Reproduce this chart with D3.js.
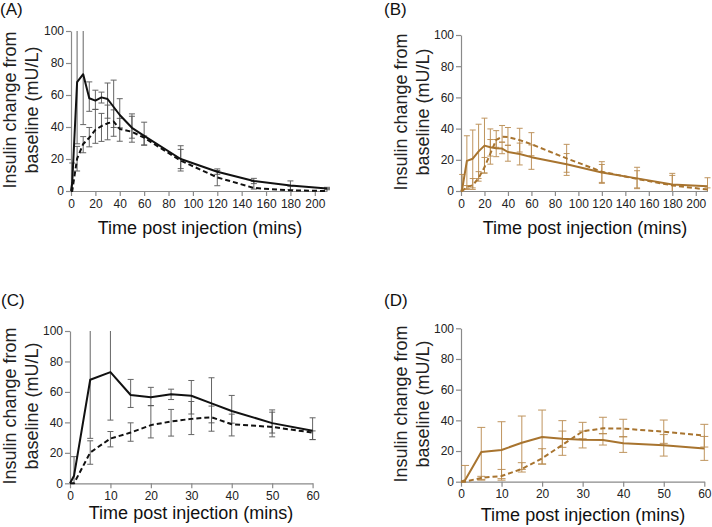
<!DOCTYPE html>
<html>
<head>
<meta charset="utf-8">
<script src="https://cdn.jsdelivr.net/npm/d3@7"></script>
<style>
  body { margin: 0; background: #fff; }
  text { font-family: "Liberation Sans", Arial, sans-serif; }
</style>
</head>
<body>
<div id="chart"></div>
<script>
// sampling times (mins)
const times = [0, 1, 5, 10, 15, 20, 25, 30, 35, 40, 50, 60, 90, 120, 150, 180, 210];

// black series (panels A, C)
const blackSolidMean = [0, 5, 68, 73, 58, 56.5, 58.5, 57.5, 52.5, 47.5, 39.5, 34.5, 20, 12, 6.3, 3.5, 1.5];
const blackSolidLo   = [0, -7, 29.5, 41.5, 49.8, 51, 55, 45.5, 39.7, 39.5, 33, 28.7, 14, 10.4, 4.6, 0.8, 0.8];
const blackSolidHi   = [0, 17.5, 130, 130, 68.2, 63, 61.8, 67.5, 69.3, 57.7, 48.2, 43, 26, 13.8, 7.9, 6.3, 2.3];

const blackDashMean = [0, 0, 20.2, 29.4, 33.3, 38.2, 40.6, 42.3, 43.4, 38.8, 37, 33.3, 19, 8.5, 1.9, 0.4, 0];
const blackDashLo   = [0, 0, 12.5, 23.9, 27.6, 29.8, 31, 32, 34.2, 31.1, 30.5, 28.7, 12.5, 3.3, 1.2, 0, 0];
const blackDashHi   = [0, 0, 27.9, 34, 39.7, 51, 48.5, 53.7, 50.7, 45.4, 46.7, 34.4, 28.3, 12.8, 6, 3, 1.5];

// brown series (panels B, D)
const brownSolidMean = [0, 1, 19.3, 20.7, 25.4, 29.1, 28, 27.4, 27.2, 25, 23.7, 21.7, 17.1, 11.8, 8.1, 4.1, 3];
const brownSolidLo   = [0, -8, 1.5, 2, 8, 11.5, 22.4, 22, 23.9, 19.1, 16.7, 13.9, 10, 4.9, 1.5, 0, 0];
const brownSolidHi   = [0, 10.6, 35.4, 39.1, 42.8, 46.7, 33, 33, 31.3, 29.3, 30.7, 29.5, 24, 18.8, 15.2, 11.3, 8.5];

const brownDashMean = [0, 0, 2.5, 3.7, 8.3, 15.2, 24, 32.8, 34.8, 34.6, 32.6, 30, 20.9, 12.4, 7.7, 3.6, 0.9];
const brownDashLo   = [0, 0, 1, 1, 6.3, 11.5, 17.2, 28, 31.3, 29.3, 25, 22.6, 12, 5.5, 2, 0, 0];
const brownDashHi   = [0, 0, 3.5, 8, 12.4, 21.5, 39.8, 38.7, 42, 40.7, 40.2, 37.4, 29.9, 17, 13, 10, 2];

const yTicks = [0, 20, 40, 60, 80, 100];
const xTicksLong = [0, 20, 40, 60, 80, 100, 120, 140, 160, 180, 200];
const xTicksShort = [0, 10, 20, 30, 40, 50, 60];

const yTitle = ['Insulin change from', 'baseline (mU/L)'];
const xTitle = 'Time post injection (mins)';

const width = 712;
const height = 527;

const svg = d3.select('#chart').append('svg')
    .attr('width', width)
    .attr('height', height);

function series(mean, lo, hi) {
    return times.map((t, i) => ({ t: t, v: mean[i], lo: lo[i], hi: hi[i] }));
}

const blackSeries = [
    { data: series(blackSolidMean, blackSolidLo, blackSolidHi), dash: null },
    { data: series(blackDashMean, blackDashLo, blackDashHi), dash: '5,3' }
];
const brownSeries = [
    { data: series(brownSolidMean, brownSolidLo, brownSolidHi), dash: null },
    { data: series(brownDashMean, brownDashLo, brownDashHi), dash: '5,3' }
];

const panels = [
    { label: '(A)', lx: 0, ly: 15, x0: 71, x1: 327, xMax: 210, y0: 191, y1: 31, ticks: xTicksLong,
      series: blackSeries, color: '#111', barColor: '#555', cap: 3,
      tx: [16, 38], ty: 110, xtx: 200, xty: 234 },
    { label: '(B)', lx: 384, ly: 15, x0: 461, x1: 707.5, xMax: 210, y0: 191, y1: 35, ticks: xTicksLong,
      series: brownSeries, color: '#a8742f', barColor: '#b98a4e', cap: 3,
      tx: [407, 429], ty: 112, xtx: 585, xty: 234 },
    { label: '(C)', lx: 1, ly: 306, x0: 70, x1: 312.6, xMax: 60, y0: 483.3, y1: 331, ticks: xTicksShort,
      series: blackSeries, color: '#111', barColor: '#555', cap: 3,
      tx: [16, 38], ty: 406, xtx: 191, xty: 519 },
    { label: '(D)', lx: 384, ly: 306, x0: 461, x1: 704.3, xMax: 60, y0: 481.7, y1: 328.3, ticks: xTicksShort,
      series: brownSeries, color: '#a8742f', barColor: '#b98a4e', cap: 4,
      tx: [407, 429], ty: 404, xtx: 583, xty: 521 }
];

panels.forEach(drawPanel);

function drawPanel(p) {
    const x = d3.scaleLinear().domain([0, p.xMax]).range([p.x0, p.x1]);
    const y = d3.scaleLinear().domain([0, 100]).range([p.y0, p.y1]);
    const g = svg.append('g');

    // axes
    const xAxis = g.append('g')
        .attr('transform', `translate(0, ${p.y0})`)
        .call(d3.axisBottom(x).tickValues(p.ticks).tickSize(5).tickSizeOuter(0).tickPadding(3));
    const yAxis = g.append('g')
        .attr('transform', `translate(${p.x0}, 0)`)
        .call(d3.axisLeft(y).tickValues(yTicks).tickSize(5).tickSizeOuter(0).tickPadding(2));

    [xAxis, yAxis].forEach(a => {
        a.select('.domain').attr('stroke', '#8a8a8a').attr('stroke-width', 1.2);
        a.selectAll('.tick line').attr('stroke', '#8a8a8a').attr('stroke-width', 1.2);
        a.selectAll('.tick text')
            .attr('fill', '#222')
            .style('font-size', '12px')
            .style('font-family', '"Liberation Sans", Arial, sans-serif');
    });

    const visible = d => d.t <= p.xMax;

    // error bars
    p.series.forEach(s => {
        const bars = s.data.filter(d => visible(d) && d.hi > d.lo);
        const bg = g.append('g').attr('stroke', p.barColor).attr('stroke-width', 1).attr('opacity', 0.9);
        bars.forEach(d => {
            const lo = Math.max(0, d.lo);
            const hi = Math.min(100, d.hi);
            const cx = x(d.t);
            bg.append('line')
                .attr('x1', cx).attr('x2', cx)
                .attr('y1', y(lo)).attr('y2', y(hi));
            if (d.hi <= 100) {
                bg.append('line')
                    .attr('x1', cx - p.cap).attr('x2', cx + p.cap)
                    .attr('y1', y(hi)).attr('y2', y(hi));
            }
            if (d.lo > 0) {
                bg.append('line')
                    .attr('x1', cx - p.cap).attr('x2', cx + p.cap)
                    .attr('y1', y(lo)).attr('y2', y(lo));
            }
        });
    });

    // mean lines
    const line = d3.line()
        .x(d => x(d.t))
        .y(d => y(d.v));

    p.series.forEach(s => {
        g.append('path')
            .datum(s.data.filter(visible))
            .attr('d', line)
            .attr('fill', 'none')
            .attr('stroke', p.color)
            .attr('stroke-width', 2)
            .attr('stroke-linejoin', 'round')
            .attr('stroke-dasharray', s.dash);
    });

    // titles
    p.tx.forEach((tx, i) => {
        g.append('text')
            .attr('transform', `translate(${tx}, ${p.ty}) rotate(-90)`)
            .attr('text-anchor', 'middle')
            .attr('fill', '#222')
            .style('font-size', '18px')
            .text(yTitle[i]);
    });

    g.append('text')
        .attr('x', p.xtx)
        .attr('y', p.xty)
        .attr('text-anchor', 'middle')
        .attr('fill', '#111')
        .style('font-size', '18px')
        .text(xTitle);

    g.append('text')
        .attr('x', p.lx)
        .attr('y', p.ly)
        .attr('fill', '#111')
        .style('font-size', '17px')
        .text(p.label);
}
</script>
</body>
</html>
